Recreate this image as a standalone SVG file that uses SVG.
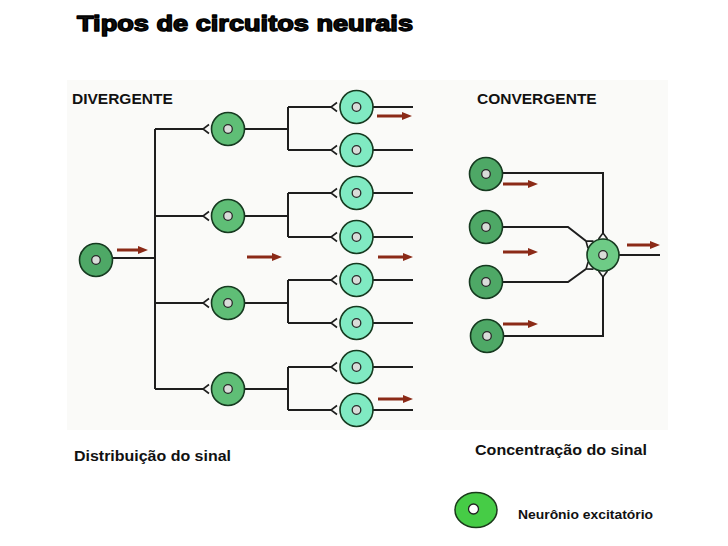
<svg xmlns="http://www.w3.org/2000/svg" xmlns:xlink="http://www.w3.org/1999/xlink" width="728" height="546" viewBox="0 0 728 546">
<style>
.ln{fill:none;stroke:#1e1e1e;stroke-width:2}
.syn{fill:none;stroke:#1e1e1e;stroke-width:1.6}
.arw{stroke:#8b2a17;stroke-width:3;marker-end:url(#ah)}
.n{stroke:#163a20;stroke-width:1.6}
.dk{fill:#4ea866}
.md{fill:#5fbe76}
.aq{fill:#80eac2}
.tg{fill:#6ecb86}
.core{fill:#d9dcd9;stroke:#2a2a2a;stroke-width:1.3}
.lbl{font-family:"Liberation Sans",Arial,sans-serif;font-weight:bold;fill:#111}
</style>
<defs>
<marker id="ah" markerWidth="10" markerHeight="8" refX="1" refY="4" orient="auto" markerUnits="userSpaceOnUse">
<path d="M0,0 L10,4 L0,8 z" fill="#8b2a17"/>
</marker>
<path id="syn" d="M6,-4.5 L0,0 L6,4.5" class="syn"/>
</defs>
<rect width="728" height="546" fill="#ffffff"/>
<rect x="67" y="80" width="601" height="350" fill="#fafaf8"/>
<text class="lbl" x="77" y="31" font-size="22" fill="#000" stroke="#000" stroke-width="1.4" stroke-linejoin="round" textLength="336" lengthAdjust="spacingAndGlyphs">Tipos de circuitos neurais</text>
<text class="lbl" x="72" y="104" font-size="15.5">DIVERGENTE</text>
<text class="lbl" x="477" y="104" font-size="15.5">CONVERGENTE</text>

<g id="connectors">
<!-- divergent -->
<path class="ln" d="M112,258 H155 M155,129 V389 M155,129 H203 M155,216 H203 M155,303 H203 M155,389 H203"/>
<path class="ln" d="M244,129 H288 M288,107 V150 M288,107 H331 M288,150 H331"/>
<path class="ln" d="M244,216 H288 M288,193 V237 M288,193 H331 M288,237 H331"/>
<path class="ln" d="M244,303 H288 M288,280 V323 M288,280 H331 M288,323 H331"/>
<path class="ln" d="M244,389 H288 M288,367 V410 M288,367 H331 M288,410 H331"/>
<path class="ln" d="M373,107 H413 M373,150 H413 M373,193 H413 M373,237 H413 M373,280 H413 M373,323 H413 M373,367 H413 M373,410 H413"/>
<use xlink:href="#syn" x="203" y="129"/>
<use xlink:href="#syn" x="203" y="216"/>
<use xlink:href="#syn" x="203" y="303"/>
<use xlink:href="#syn" x="203" y="389"/>
<use xlink:href="#syn" x="331" y="107"/>
<use xlink:href="#syn" x="331" y="150"/>
<use xlink:href="#syn" x="331" y="193"/>
<use xlink:href="#syn" x="331" y="237"/>
<use xlink:href="#syn" x="331" y="280"/>
<use xlink:href="#syn" x="331" y="323"/>
<use xlink:href="#syn" x="331" y="367"/>
<use xlink:href="#syn" x="331" y="410"/>
<!-- convergent -->
<path class="ln" d="M503,173 H603 V233"/>
<path class="ln" d="M503,227 H568 L586,241"/>
<path class="ln" d="M503,282 H568 L586,269"/>
<path class="ln" d="M503,336 H603 V277"/>
<path class="ln" d="M619,255 H660"/>
<use xlink:href="#syn" transform="translate(603,233) rotate(90)"/>
<use xlink:href="#syn" transform="translate(603,277) rotate(-90)"/>
<use xlink:href="#syn" transform="translate(586,241) rotate(38)"/>
<use xlink:href="#syn" transform="translate(586,269) rotate(-36)"/>
<!-- signal arrows -->
<line class="arw" x1="117" y1="250" x2="139" y2="250"/>
<line class="arw" x1="247" y1="257" x2="273" y2="257"/>
<line class="arw" x1="377" y1="116" x2="403" y2="116"/>
<line class="arw" x1="378" y1="257" x2="404" y2="257"/>
<line class="arw" x1="378" y1="399" x2="404" y2="399"/>
<line class="arw" x1="503" y1="184" x2="529" y2="184"/>
<line class="arw" x1="503" y1="252" x2="529" y2="252"/>
<line class="arw" x1="503" y1="324" x2="529" y2="324"/>
<line class="arw" x1="627" y1="245" x2="651" y2="245"/>
</g>

<g id="n-in"><circle class="n dk" cx="96" cy="260" r="16.5"/><circle class="core" cx="96" cy="260" r="4.3"/></g>
<g id="n-a1"><circle class="n md" cx="228" cy="129" r="16.5"/><circle class="core" cx="228" cy="129" r="4.3"/></g>
<g id="n-a2"><circle class="n md" cx="228" cy="216" r="16.5"/><circle class="core" cx="228" cy="216" r="4.3"/></g>
<g id="n-a3"><circle class="n md" cx="228" cy="303" r="16.5"/><circle class="core" cx="228" cy="303" r="4.3"/></g>
<g id="n-a4"><circle class="n md" cx="228" cy="389" r="16.5"/><circle class="core" cx="228" cy="389" r="4.3"/></g>
<g id="n-b1"><circle class="n aq" cx="356.5" cy="107" r="16.5"/><circle class="core" cx="356.5" cy="107" r="4.3"/></g>
<g id="n-b2"><circle class="n aq" cx="356.5" cy="150" r="16.5"/><circle class="core" cx="356.5" cy="150" r="4.3"/></g>
<g id="n-b3"><circle class="n aq" cx="356.5" cy="193" r="16.5"/><circle class="core" cx="356.5" cy="193" r="4.3"/></g>
<g id="n-b4"><circle class="n aq" cx="356.5" cy="237" r="16.5"/><circle class="core" cx="356.5" cy="237" r="4.3"/></g>
<g id="n-b5"><circle class="n aq" cx="356.5" cy="280" r="16.5"/><circle class="core" cx="356.5" cy="280" r="4.3"/></g>
<g id="n-b6"><circle class="n aq" cx="356.5" cy="323" r="16.5"/><circle class="core" cx="356.5" cy="323" r="4.3"/></g>
<g id="n-b7"><circle class="n aq" cx="356.5" cy="367" r="16.5"/><circle class="core" cx="356.5" cy="367" r="4.3"/></g>
<g id="n-b8"><circle class="n aq" cx="356.5" cy="410" r="16.5"/><circle class="core" cx="356.5" cy="410" r="4.3"/></g>

<g id="n-c1"><circle class="n dk" cx="486" cy="174" r="16.5"/><circle class="core" cx="486" cy="174" r="4.3"/></g>
<g id="n-c2"><circle class="n dk" cx="486" cy="227" r="16.5"/><circle class="core" cx="486" cy="227" r="4.3"/></g>
<g id="n-c3"><circle class="n dk" cx="486" cy="282" r="16.5"/><circle class="core" cx="486" cy="282" r="4.3"/></g>
<g id="n-c4"><circle class="n dk" cx="487" cy="336" r="16.5"/><circle class="core" cx="487" cy="336" r="4.3"/></g>
<g id="n-target"><circle class="n tg" cx="603" cy="255" r="16"/><circle class="core" cx="603" cy="255" r="4.3"/></g>

<text class="lbl" x="74" y="461" font-size="15.5" textLength="157" lengthAdjust="spacingAndGlyphs">Distribuição do sinal</text>
<text class="lbl" x="475" y="455" font-size="15.5" textLength="172" lengthAdjust="spacingAndGlyphs">Concentração do sinal</text>

<g id="legend">
<ellipse cx="476" cy="510" rx="21" ry="17.5" fill="#46cc46" stroke="#1a3a1a" stroke-width="1.5"/>
<circle cx="473.5" cy="509" r="5" fill="#ffffff" stroke="#222" stroke-width="1.3"/>
<text class="lbl" x="518" y="519" font-size="13.5" textLength="135" lengthAdjust="spacingAndGlyphs">Neurônio excitatório</text>
</g>
</svg>
